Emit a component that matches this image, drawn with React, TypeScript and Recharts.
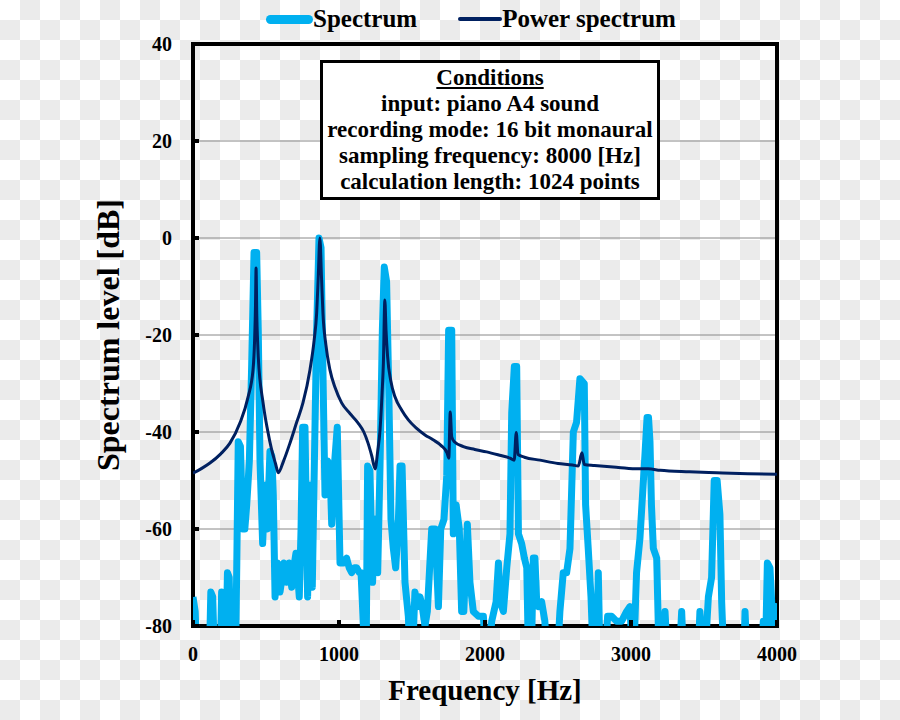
import { LineChart, Line, XAxis, YAxis, CartesianGrid, ReferenceArea, Legend } from "recharts";

// spectrum of piano A4, [Hz, dB] (-90 = below the frame)
const spectrumPoints: [number, number][] = [
  [0, -74], [15, -77], [30, -90], [110, -90], [122, -73], [135, -74], [150, -90], [185, -90],
  [196, -73], [208, -75], [222, -90], [236, -69], [248, -70], [262, -90], [290, -90], [300, -67],
  [310, -42], [325, -43], [340, -60], [355, -60], [368, -55], [386, -46], [402, -26], [418, -3],
  [436, -3], [447, -19], [459, -46], [477, -63], [493, -51], [509, -60], [527, -44], [540, -45],
  [550, -53], [562, -74], [578, -67], [596, -73], [610, -70], [623, -67], [641, -71], [660, -67],
  [676, -72], [690, -68], [705, -65], [718, -70], [728, -74], [740, -60], [751, -39], [767, -39],
  [785, -74], [801, -51], [817, -72], [831, -47], [847, -19], [863, 0], [877, -2], [893, -33],
  [904, -53], [922, -46], [938, -47], [950, -59], [968, -47], [988, -39], [1007, -67], [1030, -67],
  [1052, -66], [1070, -68], [1087, -69], [1105, -68], [1121, -68], [1140, -69], [1151, -69],
  [1167, -80], [1176, -90], [1185, -90], [1196, -47], [1212, -48], [1230, -71], [1246, -58],
  [1265, -69], [1281, -47], [1297, -19], [1310, -6], [1326, -9], [1342, -33], [1356, -58],
  [1372, -64], [1388, -68], [1405, -60], [1418, -47], [1432, -47], [1452, -71], [1475, -78],
  [1490, -90], [1505, -85], [1520, -73], [1540, -76], [1555, -74], [1570, -76], [1589, -80],
  [1605, -77], [1635, -60], [1658, -60], [1681, -76], [1697, -60], [1719, -58], [1738, -49],
  [1751, -19], [1772, -19], [1783, -61], [1802, -55], [1824, -60], [1840, -77], [1855, -77],
  [1879, -59], [1897, -71], [1920, -77], [1955, -78], [1989, -78], [2010, -90], [2030, -85],
  [2046, -79], [2076, -75], [2092, -67], [2104, -75], [2126, -77], [2149, -68], [2171, -61],
  [2183, -36], [2201, -26.5], [2217, -26.5], [2229, -61], [2251, -63], [2270, -66], [2286, -68],
  [2300, -90], [2315, -90], [2331, -66], [2342, -66], [2354, -75], [2365, -76], [2388, -75],
  [2410, -79], [2430, -90], [2490, -90], [2513, -77], [2536, -69], [2559, -69], [2582, -64],
  [2605, -40], [2627, -38], [2650, -29], [2680, -30], [2689, -55], [2707, -64], [2726, -74],
  [2745, -90], [2765, -85], [2776, -69], [2790, -90], [2815, -90], [2840, -78], [2867, -78],
  [2901, -79], [2936, -79], [2970, -77], [2993, -76], [3015, -90], [3038, -69], [3061, -62],
  [3095, -45], [3110, -37], [3120, -37], [3130, -42], [3140, -55], [3153, -64], [3176, -66],
  [3195, -90], [3220, -85], [3233, -77], [3255, -90], [3325, -90], [3347, -77], [3365, -90],
  [3455, -90], [3472, -77], [3500, -90], [3530, -74], [3552, -70], [3570, -50], [3590, -50],
  [3609, -57], [3621, -75], [3640, -90], [3770, -90], [3781, -77], [3800, -90], [3890, -90],
  [3906, -79], [3925, -80], [3934, -67], [3952, -68], [3970, -79], [3985, -90], [3993, -76],
  [4000, -78],
];

// LPC power spectrum envelope, [Hz, dB]
const powerPoints: [number, number][] = [
  [0, -48.5], [60, -47.5], [116, -46.4], [190, -44.5], [253, -42.3], [322, -38.1], [377, -32.8],
  [411, -27.2], [422, -21], [428, -14], [432, -6.2], [437, -16], [442, -21], [447, -24.5],
  [480, -34], [510, -39.5], [539, -43.7], [565, -46.5], [584, -48.4], [620, -46], [664, -42.3],
  [710, -38], [753, -34], [801, -27.2], [830, -21], [847, -15.5], [858, -8], [869, 0], [880, -8],
  [890, -15.5], [910, -22], [938, -27.2], [975, -31], [1018, -34], [1075, -36.2], [1130, -38.1],
  [1170, -40], [1199, -42.3], [1225, -45], [1247, -47.6], [1265, -44], [1281, -39.6],
  [1295, -32], [1304, -25.8], [1314, -12.8], [1322, -19], [1333, -24.5], [1355, -29.5],
  [1384, -32.8], [1430, -35.5], [1475, -37.5], [1530, -39.2], [1589, -40.6], [1644, -41.6],
  [1700, -42.8], [1740, -44.3], [1752, -45.4], [1762, -35.9], [1772, -41], [1790, -42],
  [1852, -43], [1930, -43.6], [2011, -44.1], [2100, -44.8], [2171, -45.4], [2200, -45.8],
  [2214, -40.1], [2226, -44.6], [2270, -45.2], [2377, -45.8], [2500, -46.5], [2600, -46.8],
  [2639, -47], [2664, -44.3], [2680, -46.7], [2750, -46.9], [2913, -47.3], [3050, -47.6],
  [3118, -47.6], [3200, -47.9], [3400, -48.2], [3587, -48.4], [3800, -48.6], [4000, -48.7],
];

const xTicks = [0, 1000, 2000, 3000, 4000];
const yTicks = [-80, -60, -40, -20, 0, 20, 40];
const legendOrder = ["Spectrum", "Power spectrum"];
const conditionLines = [
  "input: piano A4 sound",
  "recording mode: 16 bit monaural",
  "sampling frequency: 8000 [Hz]",
  "calculation length: 1024 points",
];

const spectrumData = spectrumPoints.map(([f, db]) => ({ f, db }));
const powerData = powerPoints.map(([f, db]) => ({ f, db }));

const serif = '"Liberation Serif", "Times New Roman", serif';
const tickStyle = { fill: "#000", fontSize: 20, fontWeight: 700, fontFamily: serif };

const renderLegend = ({ payload }: any) => {
  const items = [...(payload || [])].sort(
    (a: any, b: any) => legendOrder.indexOf(a.value) - legendOrder.indexOf(b.value)
  );
  return (
    <div
      style={{
        display: "flex",
        alignItems: "center",
        paddingLeft: 266,
        fontFamily: serif,
        fontWeight: 700,
        fontSize: 25,
        color: "#000",
      }}
    >
      {items.map((p: any, i: number) => (
        <div key={p.value} style={{ display: "flex", alignItems: "center", marginRight: 41 }}>
          <span
            style={{
              display: "inline-block",
              width: i === 0 ? 47 : 44,
              height: i === 0 ? 9 : 4,
              borderRadius: 5,
              background: p.color,
            }}
          />
          <span>{p.value}</span>
        </div>
      ))}
    </div>
  );
};

export default function App() {
  return (
    <div
      style={{
        position: "absolute",
        left: 0,
        top: 0,
        width: 900,
        height: 720,
        background: "repeating-conic-gradient(#ebebeb 0% 25%, #ffffff 0% 50%) 0 0 / 40px 40px",
      }}
    >
      <LineChart width={900} height={720} margin={{ top: 44, right: 123, bottom: 0, left: 0 }}>
        <CartesianGrid vertical={false} stroke="#888" />
        <ReferenceArea
          x1={0}
          x2={4000}
          y1={-80}
          y2={40}
          fill="none"
          stroke="#000"
          strokeWidth={4}
          ifOverflow="visible"
        />
        <XAxis
          type="number"
          dataKey="f"
          domain={[0, 4000]}
          ticks={xTicks}
          interval={0}
          allowDataOverflow
          height={94}
          axisLine={false}
          tickSize={-6}
          tickMargin={27}
          tickLine={{ stroke: "#000", strokeWidth: 4 }}
          tick={tickStyle}
          label={{
            value: "Frequency [Hz]",
            position: "insideBottom",
            offset: 20,
            fill: "#000",
            fontSize: 29,
            fontWeight: 700,
            fontFamily: serif,
          }}
        />
        <YAxis
          type="number"
          domain={[-80, 40]}
          ticks={yTicks}
          interval={0}
          allowDataOverflow
          width={193}
          axisLine={false}
          tickSize={-6}
          tickMargin={27}
          tickLine={{ stroke: "#000", strokeWidth: 4 }}
          tick={tickStyle}
          label={{
            value: "Spectrum level [dB]",
            angle: -90,
            position: "insideLeft",
            offset: 108,
            fill: "#000",
            fontSize: 32,
            fontWeight: 700,
            fontFamily: serif,
            style: { textAnchor: "middle" },
          }}
        />
        <Legend
          verticalAlign="middle"
          align="center"
          content={renderLegend}
          wrapperStyle={{ top: 5, left: 0, width: 900 }}
        />
        <Line
          data={spectrumData}
          dataKey="db"
          name="Spectrum"
          type="linear"
          stroke="#00b0f0"
          strokeWidth={7}
          strokeLinejoin="round"
          dot={false}
          activeDot={false}
          isAnimationActive={false}
        />
        <Line
          data={powerData}
          dataKey="db"
          name="Power spectrum"
          type="monotone"
          stroke="#002060"
          strokeWidth={3}
          dot={false}
          activeDot={false}
          isAnimationActive={false}
        />
      </LineChart>
      <div
        style={{
          position: "absolute",
          left: 320,
          top: 60,
          width: 340,
          height: 140,
          boxSizing: "border-box",
          border: "3.5px solid #000",
          background: "#fff",
          paddingTop: 2,
          textAlign: "center",
          fontFamily: serif,
          fontWeight: 700,
          fontSize: 23,
          lineHeight: "26px",
          color: "#000",
          whiteSpace: "nowrap",
        }}
      >
        <div style={{ textDecoration: "underline" }}>Conditions</div>
        {conditionLines.map((t) => (
          <div key={t}>{t}</div>
        ))}
      </div>
    </div>
  );
}
